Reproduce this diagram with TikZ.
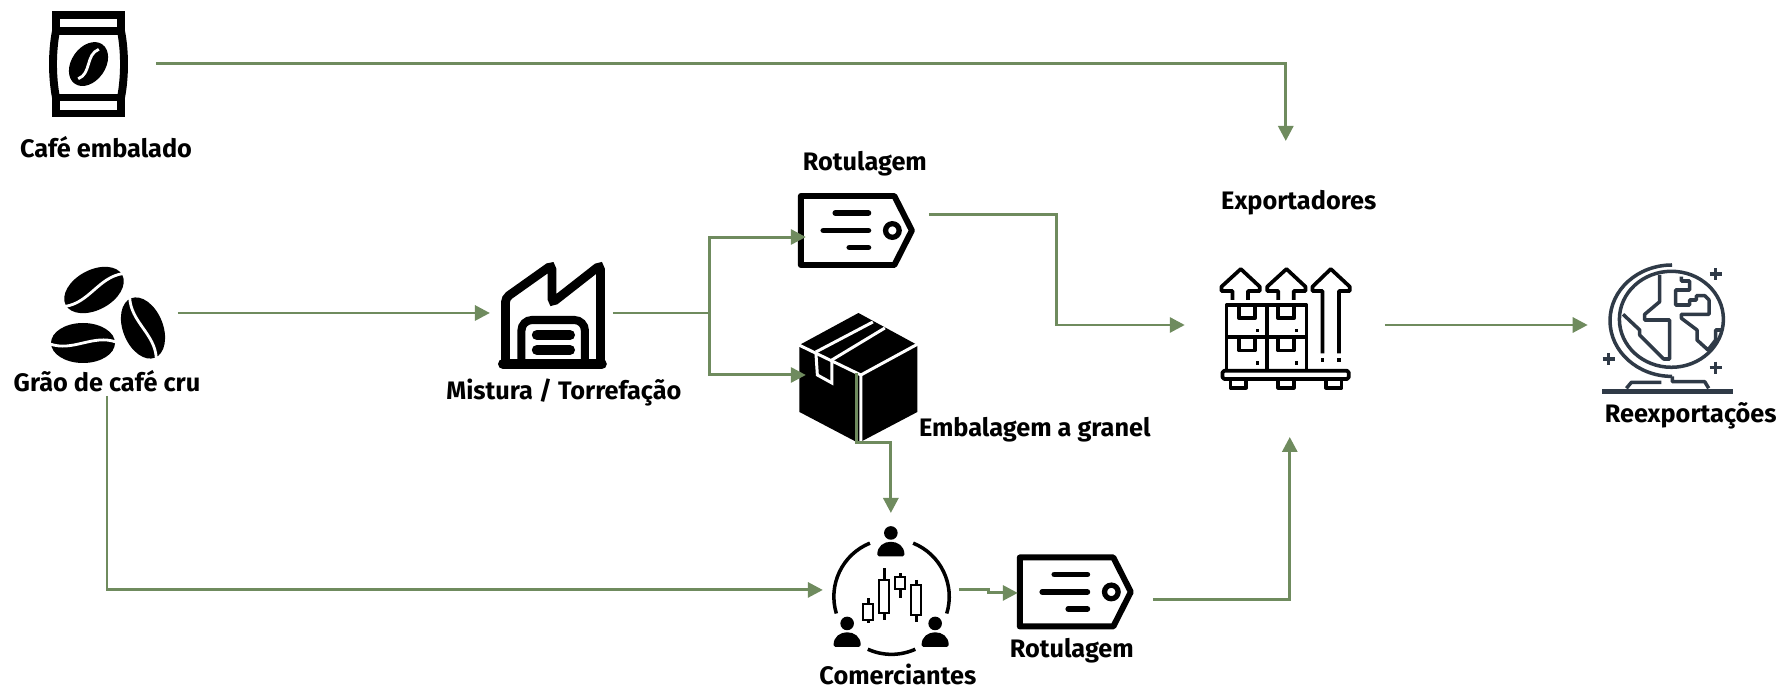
\documentclass[tikz,border=0pt]{standalone}
\usepackage{fontspec}
\setmainfont{Fira Sans}
\usetikzlibrary{arrows.meta, calc, positioning}
\definecolor{flowgreen}{HTML}{6F8B5E}
\definecolor{globeslate}{HTML}{2F3A47}
\tikzstyle{iconbox} = [rectangle, inner sep=0pt, outer sep=0pt]
\tikzstyle{caption} = [inner sep=0pt, font=\fontsize{14.4pt}{17pt}\selectfont\bfseries, text=black]
\tikzstyle{link} = [flowgreen, line width=1.7pt]
\tikzstyle{arrow} = [link, -{Triangle[length=3mm,width=3mm]}]
\tikzstyle{ink} = [line width=2.1pt, line join=round]
\tikzset{
	bagicon/.pic = {
		\draw [line width=4.5pt] (-32.5,-48) rectangle (32.5,-32);
		\draw [line width=4.5pt] (-32.5,34.5) rectangle (32.5,50.5);
		\draw [line width=4.5pt] (-32.5,-32) .. controls (-36.5,-12) and (-36.5,14) .. (-32.5,34.5);
		\draw [line width=4.5pt] (32.5,-32) .. controls (36.5,-12) and (36.5,14) .. (32.5,34.5);
		\begin{scope}[shift={(0,1)},rotate=55]
			\fill (0,0) ellipse [x radius=24,y radius=17];
			\draw [white, line width=1.6pt] (-18,0) .. controls (-6,8) and (6,-8) .. (18,0);
		\end{scope}
	},
	beanshape/.pic = {
		\fill (0,0) ellipse [x radius=32,y radius=20];
		\draw [white, line width=1.6pt] (-33,1) .. controls (-10,9) and (10,-9) .. (33,-1);
	},
	beansicon/.pic = {
		\pic [rotate=28] at (-13,-23) {beanshape};
		\pic [rotate=112] at (36,15) {beanshape};
		\pic [rotate=0] at (-24,30) {beanshape};
	},
	factoryicon/.pic = {
		\draw [line width=5pt, rounded corners=2.5pt] (-46,51) -- (-46,-15) -- (0.5,-48) -- (0.5,-10) -- (49,-48) -- (49,51);
		\draw [line width=5.6pt, line cap=round] (-48.5,51) -- (50.5,51);
		\draw [line width=4.6pt, rounded corners=6pt] (-30,51) -- (-30,7) -- (33.5,7) -- (33.5,51);
		\draw [line width=5.8pt, line cap=round] (-14.5,22) -- (18.5,22);
		\draw [line width=5.8pt, line cap=round] (-14.5,37) -- (18.5,37);
	},
	tagicon/.pic = {
		\draw [line width=3.4pt, line join=round] (-55.5,-34.5) -- (38,-34.5) -- (55.5,0) -- (38,34.5) -- (-55.5,34.5) -- cycle;
		\draw [line width=3pt] (36,0) circle [radius=6.8];
		\draw [line width=3.3pt, line cap=round] (-21,-17.5) -- (12,-17.5);
		\draw [line width=3.3pt, line cap=round] (-33,0) -- (12,0);
		\draw [line width=3.3pt, line cap=round] (-7,17) -- (12,17);
	},
	crateicon/.pic = {
		\fill (0.6,-65) -- (59.5,-33) -- (59.5,34) -- (0.6,65) -- (-58.4,34) -- (-58.4,-33) -- cycle;
		\draw [white, line width=1.7pt] (-59,-33) -- (3,-3) -- (3,66);
		\draw [white, line width=1.7pt] (3,-3) -- (60,-34);
		\draw [white, line width=1.7pt] (15,-56) -- (-42,-26);
		\draw [white, line width=1.7pt] (27,-50) -- (-26,-18);
		\draw [white, line width=1.7pt] (-42,-26) -- (-40.5,-3) -- (-26,5) -- (-26,-18);
	},
	tradericon/.pic = {
		\draw [line width=2pt] ([shift={(-112:57.7)}]0.7,6.7) arc [start angle=-112,end angle=-197,radius=57.7];
		\draw [line width=2pt] ([shift={(-68:57.7)}]0.7,6.7) arc [start angle=-68,end angle=17,radius=57.7];
		\draw [line width=2pt] ([shift={(-245.7:57.7)}]0.7,6.7) arc [start angle=-245.7,end angle=-294.3,radius=57.7];
		\foreach \cx/\ttop/\tbot/\wtop/\wbot/\half in {-22.7/14/30/8.3/33.3/5.2, -6.7/-10/23.3/-21.7/30/5, 9.3/-12.7/-0.7/-16.7/8.3/5, 25.3/-5/25/-10/31.7/5.3} {
			\draw [line width=1.6pt] (\cx,\wtop) -- (\cx,\wbot);
			\draw [line width=1.1pt, fill=white] (\cx-\half,\ttop) rectangle (\cx+\half,\tbot);
		}
		\foreach \px/\py in {0/-33.5, -43.7/57, 44.3/57} {
			\fill (\px,\py-23.5) circle [radius=6.8];
			\fill [rounded corners=1pt] (\px-13.5,\py) .. controls (\px-14,\py-19) and (\px+14,\py-19) .. (\px+13.5,\py) -- cycle;
		}
	},
	exporticon/.pic = {
		\draw [ink, rounded corners=1pt] (-62.3,45.7) rectangle (64,54);
		\foreach \fx in {-54.3,-6.7,41} \draw [ink] (\fx,54) -- (\fx,62.7) -- (\fx+15.7,62.7) -- (\fx+15.7,54);
		\draw [ink] (-58.3,45.7) -- (-58.3,-20) -- (21.7,-20) -- (21.7,45.7);
		\draw [ink] (-17.7,-20) -- (-17.7,45.7);
		\draw [ink] (-58.3,12.3) -- (21.7,12.3);
		\foreach \cx/\cy in {0/0, 39/0, 0/32.3, 39/32.3} {
			\draw [ink] (-45.7+\cx,-20+\cy) -- (-45.7+\cx,-6.7+\cy) -- (-30+\cx,-6.7+\cy) -- (-30+\cx,-20+\cy);
			\fill (-29+\cx,4+\cy) rectangle (-25.5+\cx,7.5+\cy);
		}
		\foreach \ax in {0,45.7} \draw [ink] (-52.3+\ax,-25) -- (-52.3+\ax,-34) -- (-63.3+\ax,-34) -- (-63.3+\ax,-38.3) -- (-44+\ax,-56) -- (-25+\ax,-38.3) -- (-25+\ax,-34) -- (-36.7+\ax,-34) -- (-36.7+\ax,-25);
		\draw [ink] (37.7,28.3) -- (37.7,-34) -- (27.7,-34) -- (27.7,-38.3) -- (46,-56) -- (65,-38.3) -- (65,-34) -- (54.3,-34) -- (54.3,28.3);
		\fill (35.9,33.5) rectangle (39.5,37);
		\fill (52.5,33.5) rectangle (56.1,37);
	},
	globeicon/.pic = {
		\tikzset{every path/.style={globeslate, line width=2pt, line join=round}}
		\draw (3.7,-5.7) ellipse [x radius=52,y radius=48];
		\draw ([shift={(-90:62 and 55.7)}]4.3,-4.3) arc [start angle=-90,end angle=-270,x radius=62,y radius=55.7];
		\draw (4.7,51.4) -- (4.7,56.7) -- (37,56.7) -- (41,63.3);
		\draw (-6.3,57.3) -- (-36.3,57.3) -- (-41.3,63.3);
		\draw [line width=2.5pt] (-65.3,66.7) -- (65.3,66.7);
		\draw (-8,-50) -- (-8,-23.3) -- (-23,-10.7) -- (-23,-5) -- (2,-5) -- (2,34) -- (-4,34) -- (-28,10) -- (-28,5) -- (-44.7,-10.7);
		\draw (13.7,-48.3) -- (13.7,-44) -- (22,-44) -- (22,-35) -- (8,-35) -- (8,-20) -- (22,-20) -- (22,-25) -- (28.7,-25) -- (28.7,-29.3) -- (37,-29.3) -- (41.3,-25) -- (41.3,-10.7) -- (13.7,-10.7) -- (13.7,-6.7) -- (29.3,5) -- (29.3,15) -- (40.3,25) -- (48,15) -- (48,5) -- (55,5);
		\foreach \px/\py in {48/-51, -59/34, 48/42.7} {
			\draw (\px-6,\py) -- (\px+6,\py);
			\draw (\px,\py-6) -- (\px,\py+6);
		}
	}
}
\begin{document}
\begin{tikzpicture}[x=0.02cm, y=-0.02cm, on grid, node distance = 1cm]
		\useasboundingbox (0,0) rectangle (1780,688);
		\node (Beans) [iconbox, minimum width=2.84cm, minimum height=3.32cm] at (107,313) {};
		\node (Bag) [iconbox, minimum width=2.7cm, minimum height=2.2cm, above left = 5cm and 0.37cm of Beans] {};
		\node (Factory) [iconbox, minimum width=2.46cm, minimum height=2.2cm, right = 8.89cm of Beans] {};
		\node (TagA) [iconbox, minimum width=2.34cm, minimum height=1.5cm, above right = 1.65cm and 6.1cm of Factory] {};
		\node (Crate) [iconbox, minimum width=2.38cm, minimum height=2.62cm, below right = 1.3cm and 6.13cm of Factory] {};
		\node (Trader) [iconbox, minimum width=2.72cm, minimum height=3.08cm, below right = 5.54cm and 15.68cm of Beans] {};
		\node (TagB) [iconbox, minimum width=2.34cm, minimum height=1.5cm, below right = 0.04cm and 3.69cm of Trader] {};
		\node (Exporter) [iconbox, minimum width=4cm, minimum height=2.6cm, below right = 0.24cm and 14.67cm of Factory] {};
		\node (Globe) [iconbox, minimum width=3.2cm, minimum height=2.6cm, right = 7.66cm of Exporter] {};
		\pic at (Bag) {bagicon};
		\pic at (Beans) {beansicon};
		\pic at (Factory) {factoryicon};
		\pic at (TagA) {tagicon};
		\pic at (Crate) {crateicon};
		\pic at (Trader) {tradericon};
		\pic at (TagB) {tagicon};
		\pic at (Exporter) {exporticon};
		\pic at (Globe) {globeicon};
		\node (BagLabel) [caption, below right = 1.69cm and 0.35cm of Bag] {Café embalado};
		\node (BeansLabel) [caption, below = 1.37cm of Beans] {Grão de café cru};
		\node (FactoryLabel) [caption, below right = 1.6cm and 0.25cm of Factory] {Mistura / Torrefação};
		\node (TagALabel) [caption, above right = 1.34cm and 0.17cm of TagA] {Rotulagem};
		\node (CrateLabel) [caption, below right = 1.03cm and 3.54cm of Crate] {Embalagem a granel};
		\node (TraderLabel) [caption, below right = 1.7cm and 0.14cm of Trader] {Comerciantes};
		\node (TagBLabel) [caption, below left = 1.17cm and 0.07cm of TagB] {Rotulagem};
		\node (ExporterLabel) [caption, above right = 2.45cm and 0.28cm of Exporter] {Exportadores};
		\node (GlobeLabel) [caption, below right = 1.81cm and 0.46cm of Globe] {Reexportações};
		\coordinate (ExporterTop) at ($(Exporter)+(1,-184)$);
		\coordinate (ExporterBottom) at ($(Exporter)+(5,112)$);
		\coordinate (FactorySplit) at ($(Factory.east)+(96.5,0)$);
		\coordinate (TagAIn) at ($(TagA)+(-50.5,6.5)$);
		\coordinate (TagAOut) at ($(TagA)+(72.5,-16)$);
		\coordinate (CrateIn) at ($(Crate)+(-52,-3)$);
		\coordinate (CrateOut) at ($(Crate)+(-1,-5)$);
		\coordinate (TagBIn) at ($(TagB)+(-57.5,1)$);
		\coordinate (TagBOut) at ($(TagB)+(77.5,8)$);
		\draw [arrow] (Bag.east) -| (ExporterTop);
		\draw [arrow] (Beans.east) -- (Factory.west);
		\draw [link] (Factory.east) -- (FactorySplit);
		\draw [arrow] (FactorySplit) |- (TagAIn);
		\draw [arrow] (FactorySplit) |- (CrateIn);
		\draw [arrow] (TagAOut) -| ($(Exporter.west)+(-128,0)$) -- (Exporter.west);
		\draw [arrow] (CrateOut) -- ++(0,70) -| (Trader.north);
		\draw [arrow] (Beans.south) |- (Trader.west);
		\draw [arrow] (Trader.east) -- ++(29.5,0) |- (TagBIn);
		\draw [arrow] (TagBOut) -| (ExporterBottom);
		\draw [arrow] (Exporter.east) -- (Globe.west);
\end{tikzpicture}
\end{document}
